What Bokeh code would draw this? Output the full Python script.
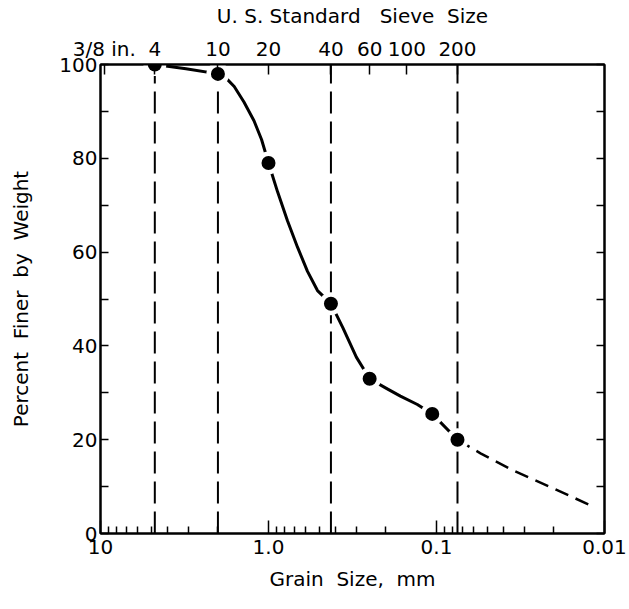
from bokeh.plotting import figure
from bokeh.models import Range1d, LogAxis, LinearAxis, FixedTicker, LogScale
from bokeh.embed import file_html
from bokeh.resources import INLINE

# U.S. standard sieve numbers and their openings (mm) along the top axis
sieve_labels = ["3/8 in.", "4", "10", "20", "40", "60", "100", "200"]
sieve_mm = [9.5, 4.75, 2.0, 1.0, 0.425, 0.25, 0.15, 0.075]

# Sieve analysis results: grain size (mm) and percent finer by weight
sample_mm = [4.75, 2.0, 1.0, 0.425, 0.25, 0.106, 0.075]
sample_pct = [100, 98, 79, 49, 33, 25.5, 20]

# Gradation curve traced through the results
curve_mm = [4.75, 3.1, 2.0, 1.80, 1.60, 1.40, 1.22, 1.10, 1.0, 0.884, 0.771,
            0.671, 0.586, 0.511, 0.425, 0.36, 0.30, 0.25, 0.20, 0.164, 0.13,
            0.106, 0.075]
curve_pct = [100, 99.1, 98, 97.2, 95.3, 92.0, 88.0, 84.0, 79, 72.9, 66.7,
             61.0, 55.9, 51.8, 49, 43.8, 37.6, 33, 31.0, 29.3, 27.5,
             25.5, 20]

# Extrapolated fines (dashed)
fines_mm = [0.075, 0.0547, 0.0348, 0.0201, 0.0121]
fines_pct = [20, 17.1, 13.4, 9.6, 6.0]

# Reference sieves marked with vertical dashed lines
ref_mm = [4.75, 2.0, 0.425, 0.075]
ref_top = [100, 98, 100, 100]
ref_bottom = [0, 0, 0, 0]

# Grain size axis
size_ticks = [10, 1, 0.1, 0.01]
size_labels = ["10", "1.0", "0.1", "0.01"]
size_minor = [9, 8, 7, 6, 5, 4, 3, 2, 0.9, 0.8, 0.7, 0.6, 0.5, 0.4, 0.3, 0.2,
              0.09, 0.08, 0.07, 0.06, 0.05, 0.04, 0.03, 0.02]
pct_ticks = [0, 20, 40, 60, 80, 100]
pct_minor = [10, 30, 50, 70, 90]

FONT = "DejaVu Sans"
FS = "20px"
NB = "\u00a0"

p = figure(width=629, height=609, x_axis_type=None, y_axis_type=None,
           x_range=Range1d(10, 0.01), y_range=Range1d(0, 100),
           toolbar_location=None, output_backend="svg",
           min_border_left=100, min_border_right=25,
           min_border_top=64, min_border_bottom=76)
p.x_scale = LogScale()
p.xgrid.visible = False
p.ygrid.visible = False
p.outline_line_color = "black"
p.outline_line_width = 2
p.background_fill_color = "white"
p.border_fill_color = "white"


def style(ax):
    ax.axis_line_color = "black"
    ax.axis_line_width = 2
    ax.major_tick_line_color = "black"
    ax.minor_tick_line_color = "black"
    ax.major_tick_line_width = 1.5
    ax.minor_tick_line_width = 1.5
    ax.major_tick_out = 0
    ax.minor_tick_out = 0
    ax.major_label_text_font = FONT
    ax.major_label_text_font_size = FS
    ax.major_label_text_color = "black"
    ax.axis_label_text_font = FONT
    ax.axis_label_text_font_size = FS
    ax.axis_label_text_font_style = "normal"
    ax.axis_label_text_color = "black"


# bottom: grain size
bottom = LogAxis(ticker=FixedTicker(ticks=size_ticks, minor_ticks=size_minor),
                 axis_label=f"Grain{NB} Size,{NB} mm")
style(bottom)
bottom.major_tick_in = 13
bottom.minor_tick_in = 7
bottom.major_label_overrides = dict(zip(size_ticks, size_labels))
bottom.major_label_standoff = 6
bottom.axis_label_standoff = 10
p.add_layout(bottom, "below")

# top: sieve numbers
top = LogAxis(ticker=FixedTicker(ticks=sieve_mm, minor_ticks=[]),
              axis_label=f"U. S. Standard {NB}{NB}Sieve {NB}Size")
style(top)
top.major_tick_in = 10
top.major_label_overrides = dict(zip(sieve_mm, sieve_labels))
top.major_label_standoff = 4
top.axis_label_standoff = 6
p.add_layout(top, "above")

# left: percent finer
left = LinearAxis(ticker=FixedTicker(ticks=pct_ticks, minor_ticks=pct_minor),
                  axis_label=f"Percent {NB}Finer {NB}by {NB}Weight")
style(left)
left.major_tick_in = 8
left.minor_tick_in = 8
left.major_label_standoff = 3
left.axis_label_standoff = 23
p.add_layout(left, "left")

# right: tick marks only
right = LinearAxis(ticker=FixedTicker(ticks=pct_ticks + pct_minor, minor_ticks=[]))
style(right)
right.major_tick_in = 8
right.major_label_overrides = {t: "" for t in pct_ticks + pct_minor}
p.add_layout(right, "right")

# vertical dashed lines at the reference sieves
p.segment(x0=ref_mm, y0=ref_bottom, x1=ref_mm, y1=ref_top,
          line_color="black", line_width=2, line_dash="22 8")

# gradation curve and dashed extrapolation
p.line(curve_mm, curve_pct, line_color="black", line_width=3, line_join="round")
p.line(fines_mm, fines_pct, line_color="black", line_width=2.5, line_dash="14 8")

# data points with a white halo that breaks the lines around them
p.scatter(sample_mm, sample_pct, size=23, fill_color="white", line_color=None)
p.scatter(sample_mm, sample_pct, size=14, fill_color="black", line_color=None)

open("out.html", "w").write(file_html(p, INLINE))
